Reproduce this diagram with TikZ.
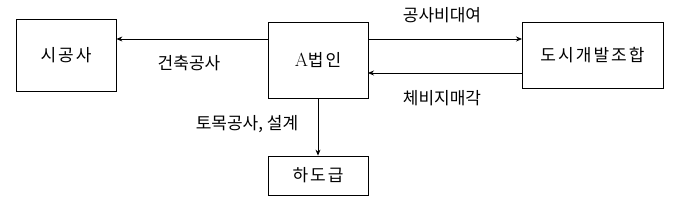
\documentclass[tikz,border=0pt]{standalone}
\usepackage{fontspec}
\newfontfamily\kr{Noto Sans CJK KR}
\newfontfamily\krs[LetterSpace=12]{Noto Sans CJK KR}
\usetikzlibrary{arrows.meta}
\begin{document}
\begin{tikzpicture}[x=1pt,y=-1pt,
  box/.style={draw,line width=0.8pt,inner sep=0pt,font=\krs\fontsize{17}{18}\selectfont},
  lbl/.style={font=\kr\fontsize{17}{18}\selectfont,inner sep=0pt},
  arr/.style={-{Stealth[length=6pt,width=5pt]},line width=0.8pt}]
\useasboundingbox (0,0) rectangle (680,203);
\node[box,minimum width=100pt,minimum height=72pt] (s) at (66,55) {시공사};
\node[box,minimum width=100pt,minimum height=76pt] (a) at (318,60) {{\rmfamily\fontsize{19}{19}\selectfont A}법인};
\node[box,minimum width=100pt,minimum height=39pt] (h) at (318,175.5) {하도급};
\node[box,minimum width=141pt,minimum height=66pt] (d) at (592.5,55) {도시개발조합};
\coordinate (a1) at (268,39);
\coordinate (a2) at (368,39);
\coordinate (a3) at (368,73);
\coordinate (d1) at (522,39);
\coordinate (d2) at (522,73);
\draw[arr] (a1) -- (a1 -| s.east);
\draw[arr] (a2) -- (d1);
\draw[arr] (d2) -- (a3);
\draw[arr] (a.south) -- (h.north);
\node[lbl] (l1) at (189,63) {건축공사};
\node[lbl] (l2) at (442,15) {공사비대여};
\node[lbl] (l3) at (442,98) {체비지매각};
\node[lbl] (l4) at (247,124) {토목공사, 설계};
\end{tikzpicture}
\end{document}
